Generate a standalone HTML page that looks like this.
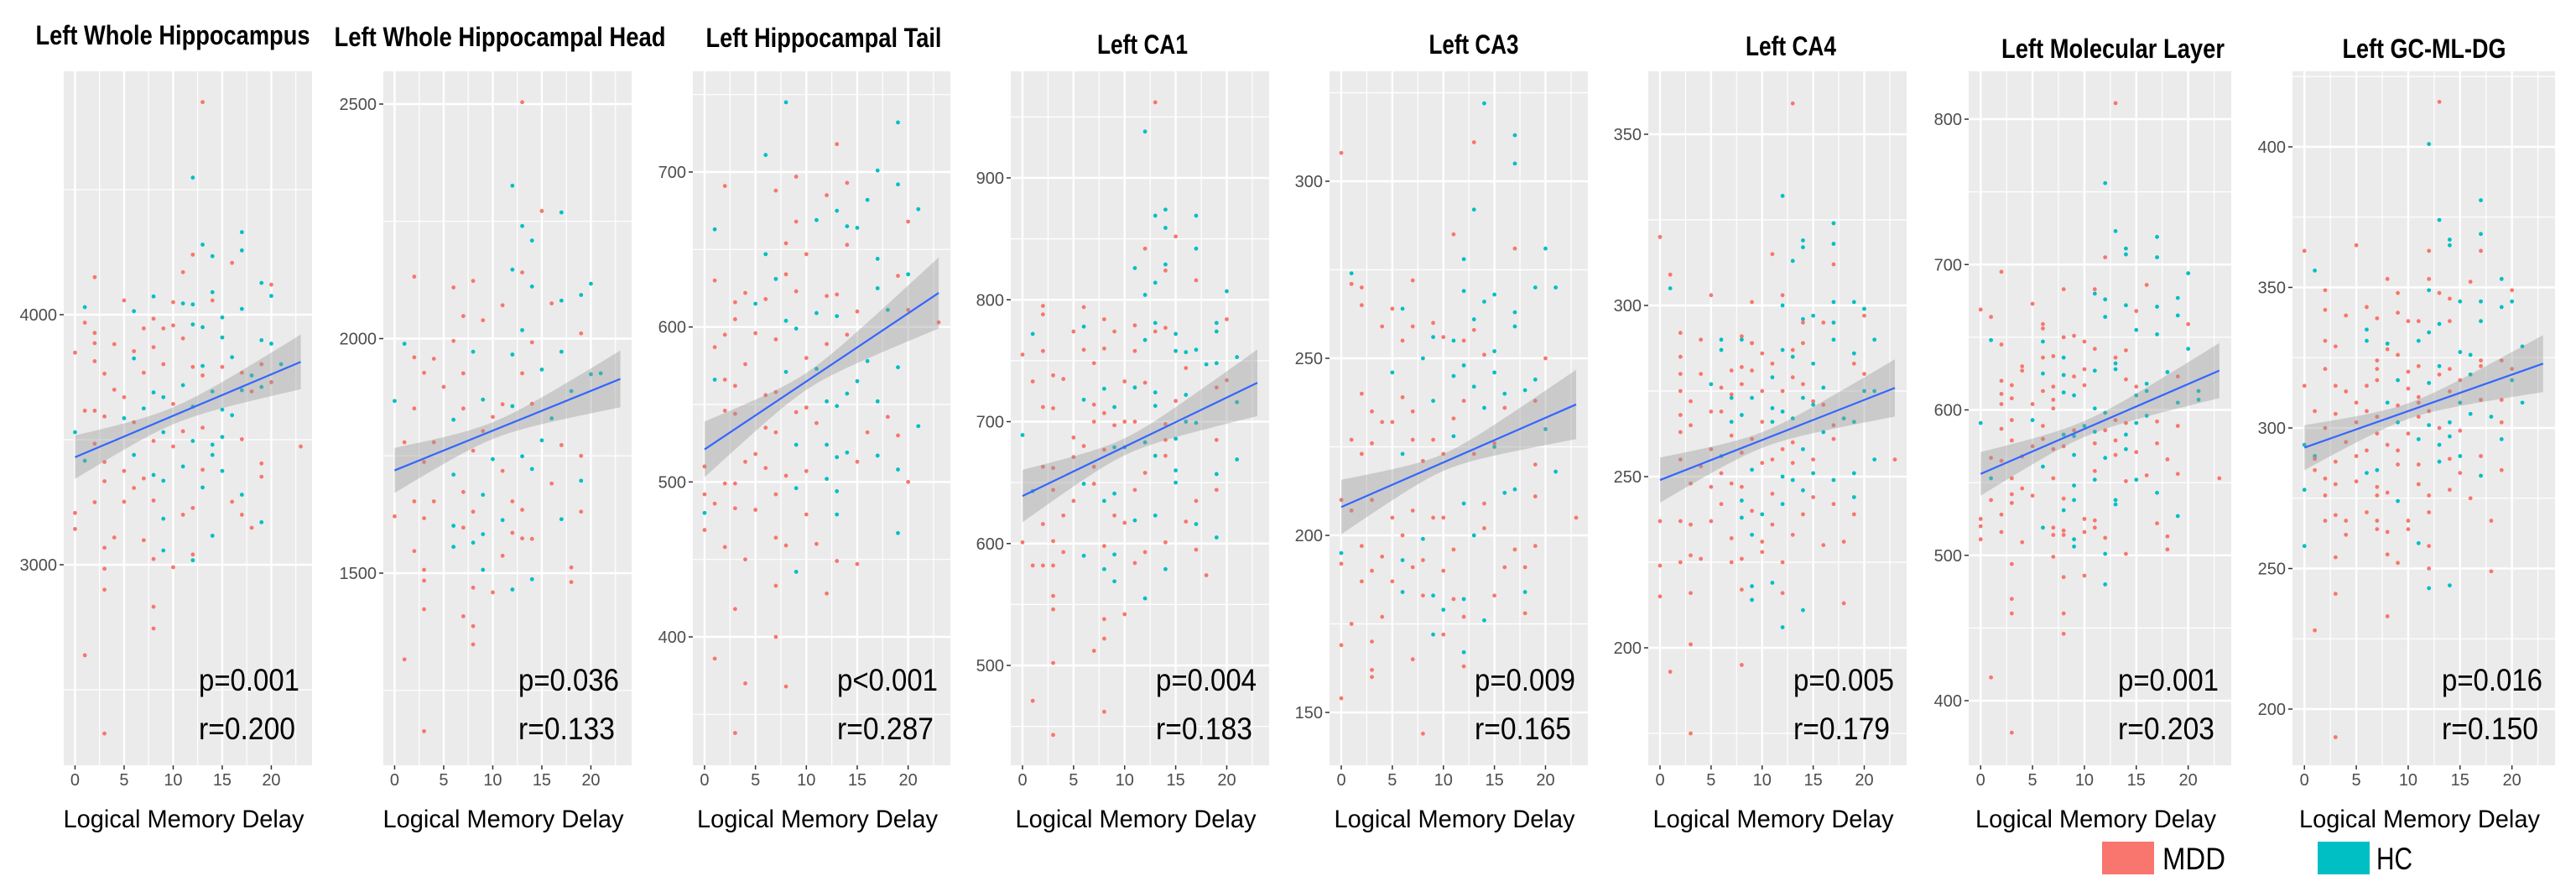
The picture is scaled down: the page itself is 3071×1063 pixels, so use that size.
<!DOCTYPE html>
<html><head><meta charset="utf-8"><title>Hippocampal subfields vs Logical Memory Delay</title>
<style>html,body{margin:0;padding:0;background:#fff;}svg{display:block;font-family:"Liberation Sans",sans-serif;}</style></head>
<body>
<svg id="fig" width="3071" height="1063" viewBox="0 0 3071 1063" xmlns="http://www.w3.org/2000/svg">
<rect x="0" y="0" width="3071" height="1063" fill="#fff"/>
<g id="panels"></g>
<g>
<rect x="2506" y="1003" width="62" height="39" fill="#F8766D"/>
<text x="2578" y="1036" font-size="37" textLength="75" lengthAdjust="spacingAndGlyphs">MDD</text>
<rect x="2763" y="1003" width="62" height="39" fill="#00BFC4"/>
<text x="2833" y="1036" font-size="37" textLength="43" lengthAdjust="spacingAndGlyphs">HC</text>
</g>
</svg>
<script>
// ---- data ----
const titles=["Left Whole Hippocampus","Left Whole Hippocampal Head","Left Hippocampal Tail","Left CA1","Left CA3","Left CA4","Left Molecular Layer","Left GC-ML-DG"];
const pValues=["p=0.001","p=0.036","p<0.001","p=0.004","p=0.009","p=0.005","p=0.001","p=0.016"];
const rValues=["r=0.200","r=0.133","r=0.287","r=0.183","r=0.165","r=0.179","r=0.203","r=0.150"];
const yTicks=[[3000,4000],[1500,2000,2500],[400,500,600,700],[500,600,700,800,900],[150,200,250,300],[200,250,300,350],[400,500,600,700,800],[200,250,300,350,400]];
const xTicks=[0,5,10,15,20];
const fitIntercept=[3430,1719,521,639,208,249,556,293];
const fitSlope=[16.57,8.48,4.39,4.04,1.26,1.17,3.09,1.30];
const ciAtZero=[87,48,18,21.5,7.7,6.6,15,8];
const ciAtMean=[34,18,5.5,7,2.4,2.3,5.5,2.8];

const p1x=[13,12,17,13,17,12,14,16,11,2,19,20,14,14,1,5,8,10,11,12,6,20,1,2,8,10,12,13,15,17,9,2,4,0,7,11,15,19,20,6,8,3,6,13,12,16,15,21,9,2,7,13,17,18,19,20,4,8,9,5,11,14,17,18,19,1,2,5,7,10,12,15,16,0,3,6,9,13,11,15,17,2,8,23,12,14,10,6,1,3,5,11,14,15,13,19,7,8,9,19,17,13,3,6,5,2,16,12,11,8,0,0,17,19,18,9,14,4,7,9,12,12,3,8,10,3,3,8,8,1,3];
const p1y=[4850,4548,4330,4280,4257,4240,4234,4207,4170,4150,4127,4120,4090,4057,4030,4057,4073,4050,4045,4041,4014,4075,3968,3927,3984,3957,3961,3950,3989,4023,3945,3886,3882,3848,3945,3905,3909,3898,3884,3854,3870,3764,3825,3795,3791,3830,3791,3802,3802,3814,3768,3757,3768,3757,3802,3730,3700,3689,3670,3670,3718,3693,3698,3693,3711,3616,3616,3586,3625,3643,3632,3620,3598,3530,3593,3570,3530,3548,3534,3511,3502,3484,3495,3473,3495,3480,3473,3439,3416,3411,3375,3393,3439,3375,3380,3405,3345,3359,3336,3352,3280,3309,3334,3307,3252,3250,3252,3227,3200,3257,3207,3143,3200,3170,3148,3184,3116,3109,3098,3057,3041,3018,3068,3023,2990,2984,2900,2832,2745,2638,2325];
const p1g="MHHHHMHMMM HMHMHMHMHH HHMMMMHHHH MMMMMMHHHM MMHHMHMHMM MMMHMMMHHM HHHMHMMHHM HHHHMMHMMH MMMMHHMHHM MHHHMMMHHM HHMMMMMMMM MMMHMHHMMH MHMMMMMMMMM";

const p2x=[13,12,15,17,13,14,12,2,13,8,20,14,6,19,11,17,7,9,13,16,1,6,14,19,2,4,8,12,17,5,7,13,15,21,0,3,9,11,18,20,2,7,12,14,10,6,16,9,15,4,1,8,17,19,13,3,10,6,11,14,19,16,7,9,2,12,4,0,8,6,13,17,19,11,3,7,9,12,14,6,8,2,11,13,3,9,18,14,3,18,10,12,8,3,7,8,8,1,3];
const p2y=[2504,2326,2272,2269,2240,2209,2147,2132,2141,2123,2117,2111,2109,2093,2071,2081,2048,2039,2018,2075,1989,1995,1992,2011,1960,1957,1972,1966,1972,1897,1926,1926,1934,1926,1867,1927,1870,1860,1888,1924,1851,1851,1856,1861,1833,1827,1830,1803,1783,1779,1779,1761,1773,1750,1749,1737,1743,1710,1718,1722,1697,1691,1673,1667,1653,1653,1653,1621,1631,1601,1635,1615,1631,1613,1617,1597,1583,1586,1573,1556,1565,1547,1537,1574,1507,1507,1512,1487,1484,1481,1459,1465,1469,1423,1408,1387,1348,1316,1163];
const p2g="MHMHHHHMMM HHMHMHMMHM HMMMMMHHHM MMHHHMHMHH MMHMMHHMHM MMMMHMHHMH HMMHMMMMMH MHMHMMHMMH HMMMMHMHMM MHMMMMMMM";

const p3x=[8,19,13,6,2,9,7,14,19,12,17,1,13,16,21,9,11,14,20,15,6,8,10,14,17,1,7,8,3,5,9,12,13,19,20,17,4,6,2,3,8,11,13,15,1,7,9,14,18,20,23,5,10,12,16,19,4,1,2,3,8,11,6,7,14,15,17,12,2,3,9,10,13,18,21,6,11,16,7,19,0,5,9,12,14,17,4,6,10,13,15,19,2,3,8,9,12,20,0,7,13,1,5,10,0,13,3,0,7,19,4,2,13,15,8,11,9,12,7,3,7,1,4,8,3];
const p3y=[745,732,718,711,691,697,688,693,692,685,701,663,675,682,676,668,669,665,668,664,647,654,647,653,644,630,631,634,616,615,623,620,621,633,634,625,622,618,595,605,604,609,607,610,587,592,599,595,611,611,603,596,580,589,578,574,576,566,566,562,571,573,556,558,557,565,552,552,546,544,545,548,549,542,536,535,538,532,532,530,510,518,524,524,519,517,513,509,507,516,513,508,499,499,504,496,502,500,492,492,494,486,482,479,480,479,483,469,464,467,450,458,449,447,459,460,442,428,433,418,400,386,370,368,338];
const p3g="HHMHMMMMHM HHHHHMHHMH HMMMHMHMMH MMMMHHMMMM HHHMMMHMHM MMMMHHMHMM HHMMHHHHMM MMHMHMMMMM MMHHHHMMMH MHMMMHHMMM HMMMHHMMMH MMMMMMHMMM MMMMM";

const p4x=[13,12,14,13,17,14,15,12,17,14,11,14,13,17,12,20,2,6,2,8,20,11,13,14,5,6,9,19,1,13,15,19,12,0,2,6,8,11,15,16,17,21,18,19,3,7,4,10,12,16,20,1,8,11,13,19,16,2,6,7,9,15,21,3,13,8,10,11,14,16,17,7,9,5,12,0,6,8,9,14,19,15,13,14,21,10,2,5,7,3,12,15,19,1,3,7,6,9,11,15,17,19,4,5,8,10,13,16,17,2,9,11,0,1,3,6,8,9,12,14,17,19,2,3,4,8,11,14,18,9,3,12,3,10,8,7,8,3,1,8,3];
const p4y=[962,938,874,869,869,859,852,842,842,829,826,824,814,816,804,807,795,794,788,784,784,779,781,777,774,778,774,781,772,774,772,774,767,755,758,759,760,758,758,757,759,753,747,748,738,748,735,733,732,744,734,733,727,728,724,728,722,712,718,714,712,717,716,711,713,707,700,700,698,700,699,700,697,687,683,689,680,677,679,685,685,686,672,672,669,679,663,671,663,662,658,660,657,643,644,649,649,641,644,650,635,644,623,635,635,617,623,618,616,616,623,619,601,582,602,590,598,591,593,601,595,605,582,582,593,579,584,579,574,569,557,555,546,542,538,512,522,502,471,462,443];
const p4g="MHHHHHMMHH HMHMHHMMMM MMHMMHMHHM HHHMMMMMHH HHHHMMMMMM MMHHHMHMHM HMHMHMMMMH HMMMHHMMHM MHHMHHMMMM MHHHMMHHMH MMMMHMHMHM MHMMMHMHMM MHMMMHMHMH MHMMMMMMMM M";

const p5x=[14,0,17,13,17,13,11,17,20,12,1,7,1,2,19,21,12,15,14,2,6,5,13,17,4,7,9,17,6,11,10,9,13,12,14,15,20,8,12,5,11,15,13,19,18,2,16,6,9,3,7,12,16,4,5,11,14,19,1,7,15,9,3,11,10,2,6,13,15,8,20,19,0,1,3,5,7,9,12,14,16,17,19,21,23,6,8,10,13,2,0,4,6,8,11,14,19,17,0,3,7,10,16,18,5,2,6,8,11,12,15,18,1,4,9,10,14,12,18,9,10,3,0,12,7,3,3,12,0,8];
const p5y=[322,308,313,311,305,292,285,281,281,278,274,272,271,270,270,270,269,268,266,265,264,264,261,263,259,259,260,259,255,255,256,256,258,255,251,252,250,250,248,246,245,246,242,244,241,240,240,239,238,235,235,238,236,232,232,233,236,238,227,227,225,227,226,228,223,223,223,223,226,221,230,220,210,207,210,205,207,205,209,209,212,213,211,218,205,200,199,205,200,197,195,194,193,193,196,202,197,196,192,190,191,190,191,191,187,187,184,183,182,182,183,184,175,177,183,179,176,177,178,172,172,170,169,167,165,162,160,163,154,144];
const p5g="HMHMHHMMHH HMMMHHHHHM HMHHMMMHMH MHMMMHMHHH HHHHHMHMHM MMMMMMHMMM HMMHMMHMMM HMMMMMMMHM HHMHMMHMHM HMHMMMMMMM MMMMMMHMMH MHMMHHHMMH MMMHMMMMMM";

const p6x=[13,12,17,0,14,17,14,11,13,17,1,1,5,12,9,12,17,19,20,20,16,14,14,17,15,2,8,6,8,4,9,9,17,21,10,13,14,12,19,2,6,13,8,11,15,7,19,2,4,9,11,20,5,8,13,16,2,6,7,10,12,14,15,21,3,7,9,11,12,14,15,17,18,20,2,5,6,8,10,11,13,16,3,7,9,12,14,19,13,16,2,5,7,6,8,11,13,15,17,21,23,2,4,6,9,10,12,15,17,19,5,7,8,13,11,3,14,19,6,8,12,17,5,9,2,0,3,10,14,15,19,8,9,11,13,7,18,10,16,3,12,7,4,0,8,2,11,9,10,8,12,0,9,3,18,14,12,3,8,1,3];
const p6y=[359,332,324,320,319,318,317,315,313,312,309,305,303,303,301,300,301,301,299,297,295,296,295,295,297,292,291,290,290,290,289,289,290,290,286,287,289,287,286,285,287,285,282,283,283,281,283,280,280,281,279,280,277,277,279,276,275,276,274,275,275,277,272,275,272,273,273,270,269,273,271,265,267,275,268,269,269,268,266,266,267,271,265,266,261,258,258,266,260,263,263,258,262,256,257,255,254,255,261,255,255,255,253,251,252,254,250,251,249,251,247,248,247,249,245,248,246,244,242,243,242,242,237,240,237,237,236,239,239,244,239,238,233,236,233,232,231,231,230,227,225,225,226,224,226,225,219,218,228,217,216,215,214,216,213,211,206,201,195,193,175];
const p6g="MHHMHHHMHM MHMMMHHHHM MHMHHMMHHM MMHHMMMHHM HHMMHMMMMM HMHMMHMMMM MMMHMHHHHH HMHHMMMHMH HMMHMMHHMH MMMHMMMMMH MMMMHMHHHH MMMHMMHHMH HMMMMMMHMM MHHMMMMMMM MMMMMMHHMM MMHMMHHMMM M";

const p7x=[13,12,13,17,14,14,12,17,2,20,8,11,16,11,12,19,0,5,14,17,1,12,15,19,6,20,15,6,9,17,8,10,2,1,6,11,20,4,7,13,14,4,6,13,8,11,13,18,2,6,8,9,10,14,16,19,21,3,7,2,6,8,10,15,16,3,7,9,12,2,5,11,15,19,21,0,7,5,13,17,3,10,6,9,11,15,19,14,2,12,8,16,3,9,6,14,13,11,17,1,5,7,4,8,15,12,14,2,6,9,13,18,1,11,19,16,23,3,7,9,11,14,15,4,3,5,8,13,17,1,9,3,13,8,2,2,0,0,10,11,19,17,6,7,8,11,7,8,10,12,18,0,9,9,18,4,7,12,14,3,8,10,12,3,3,8,8,1,3];
const p7y=[811,756,723,719,711,707,705,705,695,694,683,683,686,680,676,677,669,673,672,671,664,664,668,665,659,659,655,656,651,652,650,647,645,648,647,642,642,630,637,636,641,627,636,632,636,627,628,626,620,625,624,623,628,621,618,623,613,617,616,611,613,612,617,616,613,608,607,610,598,604,604,601,610,605,607,591,601,593,593,592,593,589,589,586,585,591,589,591,587,586,583,596,579,582,580,583,579,577,577,567,575,573,568,575,571,567,573,565,561,569,569,566,553,558,556,555,553,553,553,548,552,551,552,546,542,541,539,538,543,538,538,536,535,531,528,516,525,520,525,524,527,522,519,519,517,519,514,514,516,512,513,511,511,506,504,509,499,501,501,494,485,486,480,470,460,460,446,416,378];
const p7g="MHHHHHMHMH MMMHHHMMHH MHMHMMHMMH MMMHHMHMMM MMMHHHHHMH HMMMHMHMMM MHMMHMMHHM MHHHHHMHMM MHMMHHMMMM HHMHMHMMMM MMMMMHHMHH MMHMMMMMMH HMHMMMMHHM HMHHMMMMMM HMHMMMMMMM MMHHMMMHMM MMHMMMMMM";

const p8x=[13,12,17,13,14,14,17,0,12,17,5,1,8,13,12,19,2,9,12,16,20,14,15,17,20,19,2,6,9,10,4,7,11,14,13,17,6,12,2,8,11,6,3,8,15,21,7,9,16,13,17,19,11,2,7,10,13,14,17,20,0,3,7,9,12,15,16,20,4,6,10,14,11,8,9,5,11,15,17,19,21,1,6,12,16,7,11,14,18,19,3,2,5,9,12,7,10,13,15,0,1,14,19,4,13,8,11,6,9,14,15,3,17,1,5,11,13,9,19,7,15,6,1,5,11,2,3,17,8,7,12,14,9,16,0,2,7,4,3,6,7,10,12,18,2,8,4,10,7,11,12,0,9,8,3,12,18,12,14,3,8,1,3];
const p8y=[416,401,381,374,367,365,369,363,363,363,365,356,353,348,353,353,349,348,349,352,349,346,345,345,345,343,342,343,341,338,340,339,338,338,337,338,335,334,331,330,331,331,329,328,327,329,324,326,326,322,324,324,322,321,321,320,319,321,322,321,315,315,317,317,316,317,319,317,313,315,314,313,311,309,308,309,309,309,310,310,309,306,306,306,305,304,304,302,304,302,305,300,302,302,301,298,298,300,299,294,290,297,296,295,294,294,296,292,292,289,290,288,290,289,290,287,288,287,285,285,284,284,285,281,280,282,280,283,277,279,276,278,274,275,278,276,276,267,269,270,267,267,270,267,267,263,262,264,264,259,258,258,252,255,254,250,249,243,244,241,233,228,190];
const p8g="MHHHHHHMMM MHMMMHMMHM MMHHHHMMMM MMMMHHHHMH HHMMHHMMHH MMMMMMMMMM MMMHHMHHMM MMMHMMMHMM HMMMHMMHHM MMMHHMMMMH HHHMHMHMMM HMMMMMHMMH MHMMMMMHMM MMHMHMMMMM MMMMMMMMMH MHMMMMMHHM MMM";

const panelXs=[p1x,p2x,p3x,p4x,p5x,p6x,p7x,p8x];
const panelYs=[p1y,p2y,p3y,p4y,p5y,p6y,p7y,p8y];
const panelGs=[p1g,p2g,p3g,p4g,p5g,p6g,p7g,p8g];

// ---- layout (pixels) ----
const plotLeft=[76,457,826,1205,1585,1965,2347,2733];
const plotRight=[372,753,1133,1513,1893,2273,2660,3046];
const tickRefA=[[4000,375],[2500,124],[700,205],[900,212],[300,216],[350,160],[800,142],[400,175]];
const tickRefB=[[3000,673],[1500,683],[400,759],[500,793],[150,849],[200,772],[400,835],[200,845]];
const titleCx=[206,596,982,1362,1757,2135,2519,2890];
const titleY=[53,55,56,64,64,66,69,69];
const titleW=[327,395,281,108,107,108,266,195];
const PT=85, PB=912, XMIN=-1.15, XMAX=24.15;
const NS="http://www.w3.org/2000/svg";
const root=document.getElementById('panels');
function mk(tag,attrs,parent){const e=document.createElementNS(NS,tag);for(const k in attrs)e.setAttribute(k,attrs[k]);parent.appendChild(e);return e;}

for(let p=0;p<8;p++){
  const L=plotLeft[p],R=plotRight[p];
  const xs=v=>L+(v-XMIN)/(XMAX-XMIN)*(R-L);
  const [va,pa]=tickRefA[p],[vb,pb]=tickRefB[p];
  const ys=v=>pa+(v-va)*(pb-pa)/(vb-va);
  const yInv=px=>va+(px-pa)*(vb-va)/(pb-pa);
  const g=mk('g',{},root);
  
  
  const bg=mk('rect',{x:L,y:PT,width:R-L,height:PB-PT,fill:'#EBEBEB'},g);
  
  
  const tk=yTicks[p], step=tk[1]-tk[0];
  const lo=Math.min(yInv(PT),yInv(PB)), hi=Math.max(yInv(PT),yInv(PB));
  // minor y grid
  for(let v=Math.ceil((lo-step/2)/step)*step+step/2; v<=hi; v+=step){
    if(v<lo)continue;
    const ln=mk('line',{x1:L,x2:R,y1:ys(v),y2:ys(v),stroke:'#fff','stroke-width':1.2},g);
    
    
  }
  [2.5,7.5,12.5,17.5,22.5].forEach(v=>{
    const ln=mk('line',{x1:xs(v),x2:xs(v),y1:PT,y2:PB,stroke:'#fff','stroke-width':1.2},g);
    
    
  });
  tk.forEach(v=>{
    const ln=mk('line',{x1:L,x2:R,y1:ys(v),y2:ys(v),stroke:'#fff','stroke-width':2.4},g);
    
    
    const t=mk('line',{x1:L-5,x2:L,y1:ys(v),y2:ys(v),stroke:'#333','stroke-width':1.5},g);
    
    
    const lb=mk('text',{x:L-8,y:ys(v)+7,'text-anchor':'end','font-size':20,fill:'#4D4D4D'},g);
    
    
    lb.textContent=v;
  });
  xTicks.forEach(v=>{
    const ln=mk('line',{x1:xs(v),x2:xs(v),y1:PT,y2:PB,stroke:'#fff','stroke-width':2.4},g);
    
    
    const t=mk('line',{x1:xs(v),x2:xs(v),y1:PB,y2:PB+5,stroke:'#333','stroke-width':1.5},g);
    
    
    const lb=mk('text',{x:xs(v),y:936,'text-anchor':'middle','font-size':20,fill:'#4D4D4D'},g);
    
    
    lb.textContent=v;
  });
  // points
  const X=panelXs[p],Y=panelYs[p],G=panelGs[p].replace(/\s/g,'').split('');
  const n=Math.min(X.length,Y.length,G.length);
  for(let i=0;i<n;i++){
    const c=mk('circle',{cx:xs(X[i]),cy:ys(Y[i]),r:2.4,fill:G[i]==='H'?'#00BFC4':'#F8766D'},g);
    
    
  }
  // CI band + fit line
  const xm=10, a=fitIntercept[p], b=fitSlope[p];
  const k=(ciAtZero[p]**2-ciAtMean[p]**2)/(xm*xm);
  const hw=x=>Math.sqrt(ciAtMean[p]**2+k*(x-xm)**2);
  let up=[],dn=[];
  for(let i=0;i<=46;i++){const x=i*0.5;up.push(xs(x)+','+ys(a+b*x+hw(x)));dn.unshift(xs(x)+','+ys(a+b*x-hw(x)));}
  const band=mk('polygon',{points:up.concat(dn).join(' '),fill:'#999999','fill-opacity':0.4},g);
  
  
  const fl=mk('line',{x1:xs(0),y1:ys(a),x2:xs(23),y2:ys(a+b*23),stroke:'#3366FF','stroke-width':2.2},g);
  
  
  // texts
  const tt=mk('text',{x:titleCx[p],y:titleY[p],'text-anchor':'middle','font-size':32,'font-weight':'bold',textLength:titleW[p],lengthAdjust:'spacingAndGlyphs'},g);
  
  
  tt.textContent=titles[p];
  const xl=mk('text',{x:(L+R)/2-5,y:986,'text-anchor':'middle','font-size':30,textLength:287,lengthAdjust:'spacingAndGlyphs'},g);
  
  
  xl.textContent='Logical Memory Delay';
  const pt=mk('text',{x:R-135,y:823,'font-size':37,textLength:120,lengthAdjust:'spacingAndGlyphs'},g);
  
  
  pt.textContent=pValues[p];
  const rt=mk('text',{x:R-135,y:881,'font-size':37,textLength:115,lengthAdjust:'spacingAndGlyphs'},g);
  
  
  rt.textContent=rValues[p];
}
</script>
</body></html>
